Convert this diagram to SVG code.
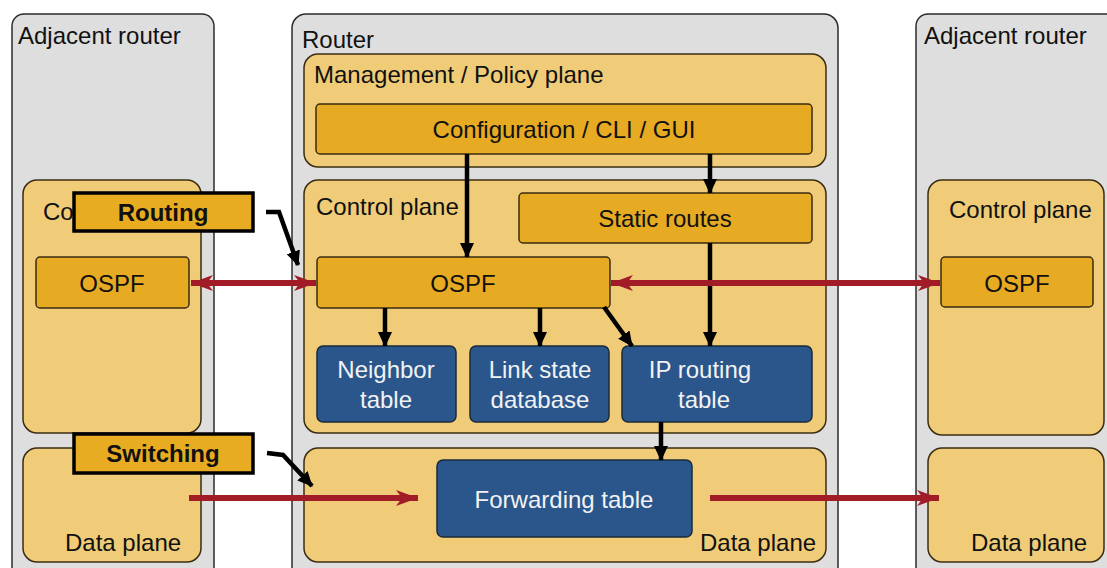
<svg xmlns="http://www.w3.org/2000/svg" width="1107" height="568" viewBox="0 0 1107 568">
<defs>
<style>
.router{fill:#DEDEDE;stroke:#2B2B2B;stroke-width:1.5}
.plane{fill:#F0CC78;stroke:#3A2C12;stroke-width:1.5}
.gold{fill:#E6AA23;stroke:#3A2C12;stroke-width:1.5}
.blue{fill:#2A568C;stroke:#1A2A3A;stroke-width:1.5}
.callout{fill:#E8AC22;stroke:#000;stroke-width:3.5}
text{font-family:"Liberation Sans",Arial,sans-serif;font-size:24px;fill:#111}
.c{text-anchor:middle}
.w{fill:#F2F2F2}
.b{font-weight:bold}
.blk{stroke:#000;stroke-width:4.5;fill:none}
.red{stroke:#A21C28;stroke-width:6;fill:none}
</style>
<marker id="ah" markerUnits="userSpaceOnUse" markerWidth="16" markerHeight="16" refX="14" refY="8" orient="auto">
<path d="M0,1 L15,8 L0,15 z" fill="#000"/>
</marker>
<marker id="rh" markerUnits="userSpaceOnUse" markerWidth="24" markerHeight="18" refX="22" refY="9" orient="auto-start-reverse">
<path d="M0,1 L22,9 L0,17 L6,9 z" fill="#A21C28"/>
</marker>
</defs>
<rect width="1107" height="568" fill="#FFFFFF"/>

<g id="left-router">
<rect class="router" x="12" y="14" width="202" height="580" rx="12"/>
<text x="18" y="44">Adjacent router</text>
</g>
<g id="left-control-plane">
<rect class="plane" x="23" y="180" width="178" height="253" rx="14"/>
<text x="43" y="220">Co</text>
</g>
<g id="left-ospf">
<rect class="gold" x="36" y="257" width="153" height="51" rx="4"/>
<text class="c" x="112" y="292">OSPF</text>
</g>
<g id="left-data-plane">
<rect class="plane" x="23" y="448" width="178" height="114" rx="14"/>
<text x="65" y="551">Data plane</text>
</g>

<g id="router">
<rect class="router" x="292" y="14" width="546" height="580" rx="14"/>
<text x="302" y="48">Router</text>
</g>
<g id="management-plane">
<rect class="plane" x="304" y="54" width="522" height="113" rx="14"/>
<text x="314" y="83">Management / Policy plane</text>
</g>
<g id="configuration">
<rect class="gold" x="316" y="104" width="496" height="50" rx="4"/>
<text class="c" x="564" y="138">Configuration / CLI / GUI</text>
</g>
<g id="control-plane">
<rect class="plane" x="304" y="180" width="522" height="253" rx="14"/>
<text x="316" y="215">Control plane</text>
</g>
<g id="static-routes">
<rect class="gold" x="519" y="193" width="293" height="50" rx="4"/>
<text class="c" x="665" y="227">Static routes</text>
</g>
<g id="ospf">
<rect class="gold" x="317" y="257" width="293" height="51" rx="4"/>
<text class="c" x="463" y="292">OSPF</text>
</g>
<g id="neighbor-table">
<rect class="blue" x="317" y="346" width="139" height="76" rx="6"/>
<text class="c w" x="386" y="378">Neighbor</text>
<text class="c w" x="386" y="408">table</text>
</g>
<g id="link-state-database">
<rect class="blue" x="470" y="346" width="139" height="76" rx="6"/>
<text class="c w" x="540" y="378">Link state</text>
<text class="c w" x="540" y="408">database</text>
</g>
<g id="ip-routing-table">
<rect class="blue" x="622" y="346" width="190" height="76" rx="6"/>
<text class="c w" x="700" y="378">IP routing</text>
<text class="c w" x="704" y="408">table</text>
</g>
<g id="data-plane">
<rect class="plane" x="304" y="448" width="522" height="114" rx="14"/>
<text x="700" y="551">Data plane</text>
</g>
<g id="forwarding-table">
<rect class="blue" x="437" y="460" width="255" height="77" rx="6"/>
<text class="c w" x="564" y="508">Forwarding table</text>
</g>

<g id="right-router">
<rect class="router" x="916" y="14" width="210" height="580" rx="12"/>
<text x="924" y="44">Adjacent router</text>
</g>
<g id="right-control-plane">
<rect class="plane" x="928" y="180" width="176" height="255" rx="14"/>
<text x="949" y="218">Control plane</text>
</g>
<g id="right-ospf">
<rect class="gold" x="941" y="257" width="152" height="50" rx="4"/>
<text class="c" x="1017" y="292">OSPF</text>
</g>
<g id="right-data-plane">
<rect class="plane" x="928" y="448" width="176" height="114" rx="14"/>
<text x="971" y="551">Data plane</text>
</g>

<g id="connectors">
<line class="blk" x1="467" y1="154" x2="467" y2="257" marker-end="url(#ah)"/>
<line class="blk" x1="710" y1="154" x2="710" y2="193" marker-end="url(#ah)"/>
<line class="blk" x1="710" y1="243" x2="710" y2="346" marker-end="url(#ah)"/>
<line class="blk" x1="385" y1="308" x2="385" y2="346" marker-end="url(#ah)"/>
<line class="blk" x1="540" y1="308" x2="540" y2="346" marker-end="url(#ah)"/>
<line class="blk" x1="604" y1="307" x2="632" y2="346" marker-end="url(#ah)"/>
<line class="blk" x1="661" y1="422" x2="661" y2="460" marker-end="url(#ah)"/>
<line class="red" x1="191" y1="283" x2="316" y2="283" marker-start="url(#rh)" marker-end="url(#rh)"/>
<line class="red" x1="611" y1="283" x2="940" y2="283" marker-start="url(#rh)" marker-end="url(#rh)"/>
<line class="red" x1="189" y1="498" x2="418" y2="498" marker-end="url(#rh)"/>
<line class="red" x1="710" y1="498" x2="939" y2="498" marker-end="url(#rh)"/>
<polyline class="blk" stroke-width="3" points="266,212 279,212 298,265" marker-end="url(#ah)"/>
<polyline class="blk" stroke-width="3" points="267,453 283,455 312,486" marker-end="url(#ah)"/>
</g>

<g id="routing-label">
<rect class="callout" x="74" y="193" width="179" height="38"/>
<text class="c b" x="163" y="221">Routing</text>
</g>
<g id="switching-label">
<rect class="callout" x="74" y="434" width="179" height="39"/>
<text class="c b" x="163" y="462">Switching</text>
</g>
</svg>
